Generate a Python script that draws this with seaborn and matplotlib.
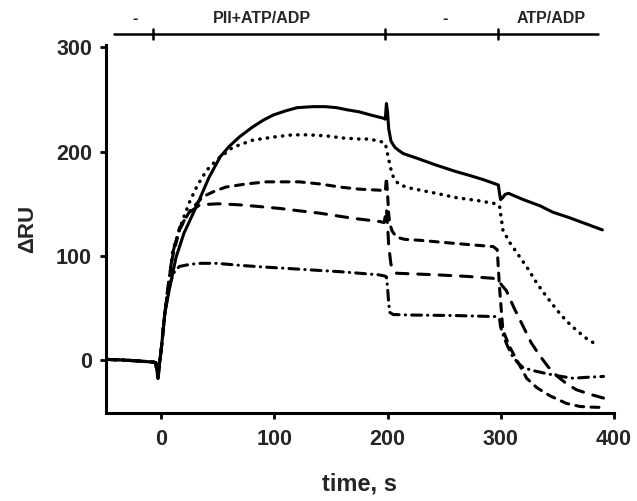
import matplotlib
matplotlib.use("Agg")
import matplotlib.pyplot as plt
import seaborn as sns
import pandas as pd

sns.set_theme(style="white")
plt.rcParams['font.family'] = ['Liberation Sans', 'DejaVu Sans']
plt.rcParams['font.weight'] = 'bold'

# ---- data ----
base_t = [-48, -35, -20, -8, -5, -3, -2]
base_v = [1, 0.5, -0.5, -1.5, -2, -17, -6]

t_solid = base_t + [0, 3, 7, 13, 20, 32, 42, 52, 60, 69, 80, 90, 99, 110, 120, 134, 145,
                    155, 164, 175, 185, 196, 198, 199, 200, 201, 203, 206.5, 210, 214, 225,
                    243, 260, 273, 285, 298, 299, 300, 302, 304, 307, 320, 335, 346, 360, 375, 390]
v_solid = base_v + [12, 45, 68, 99, 122, 150, 175, 195, 205, 214, 223, 230, 235, 239, 242, 243, 243,
                    242, 240, 238, 235, 232, 231, 246, 238, 222, 210, 204, 201, 198, 194,
                    187, 181, 177, 173, 168, 160, 154, 156, 159, 160, 154, 148, 142, 137, 131, 125]

t_dot = base_t + [0, 3, 5, 10, 15, 19, 25, 32, 40, 49, 63, 81, 100, 116, 130, 146, 160, 175,
                  184, 196, 198, 200.5, 203, 205, 208, 211, 220, 243, 260, 280, 296, 299, 302,
                  308, 317, 324, 332, 340, 350, 358, 367, 376, 385]
v_dot = base_v + [12, 45, 60, 105, 122, 135, 152, 168, 182, 192, 204, 211, 214, 216, 216, 215, 213, 212,
                  212, 209, 208, 195, 183, 176, 171, 168, 165, 160, 156, 153, 150, 148, 125,
                  113, 99, 88, 74, 62, 48, 38, 29, 21, 15]

t_dash_a = base_t + [0, 3, 5, 10, 16, 25, 37, 47, 57, 75, 93, 110, 122, 140, 158, 175, 193, 198,
                     199, 200, 201, 202, 204, 208, 215, 229, 260, 293.5, 297, 299, 302, 308,
                     314, 323, 332, 344, 358, 370, 379, 390]
v_dash_a = base_v + [12, 45, 62, 100, 125, 143, 157, 162, 166, 169, 171, 171, 171, 169, 166, 164, 163, 162,
                     175, 160, 140, 131, 124, 118, 116, 115, 112, 109, 106, 70, 29, 13,
                     1, -17, -26, -34, -41, -44, -44.6, -45]

t_dash_b = base_t + [0, 3, 5, 10, 16, 25, 34, 50, 69, 85, 105, 120, 140, 155, 170, 193, 197,
                     199, 200, 201, 203, 205, 208, 220, 243, 270, 293, 298, 301, 305, 312,
                     320, 327, 335, 342, 350, 358, 367, 378, 391]
v_dash_b = base_v + [12, 45, 64, 103, 127, 142, 149, 150, 149, 147.5, 145.5, 143.5, 141, 138.5, 136, 133, 132,
                     145, 130, 110, 92, 87, 83.5, 83, 82, 80.5, 78.7, 77, 72, 67, 50,
                     32.5, 17, 4, -6, -15, -22, -28, -32, -36]

t_dashdot = base_t + [0, 3, 5, 8, 12, 16, 25, 35, 49, 70, 90, 113, 135, 158, 175, 192, 197,
                      199, 200, 201, 202, 205, 220, 260, 296, 299, 300, 303, 306, 310, 315,
                      320, 330, 341, 352, 364, 378, 391]
v_dashdot = base_v + [12, 45, 58, 75, 86, 90, 92, 93, 93, 91, 89.5, 88, 86.5, 85, 83.5, 82, 81,
                      80, 70, 55, 46, 44, 43.5, 43, 42, 40, 32, 22, 14, 5, -2,
                      -7, -10, -12.7, -15, -17, -16, -15.3]

x_ticks = [0, 100, 200, 300, 400]
y_ticks = [0, 100, 200, 300]

bar_edges = [-42, 386]
bar_ticks = [-7, 198, 298]
bar_labels = ["-", "PII+ATP/ADP", "-", "ATP/ADP"]
bar_label_t = [-23, 88.5, 250.7, 345]

series = [
    ("solid", t_solid, v_solid, "-", 2.2),
    ("dotted", t_dot, v_dot, (0, (0.1, 2.1)), 2.5),
    ("dash_a", t_dash_a, v_dash_a, (0, (2.6, 2.4)), 2.2),
    ("dash_b", t_dash_b, v_dash_b, (0, (3.8, 3.2)), 2.2),
    ("dashdot", t_dashdot, v_dashdot, (0, (3.2, 2.0, 0.1, 2.0)), 2.2),
]

fig = plt.figure(figsize=(6.37, 5.01), dpi=100)
ax = fig.add_axes([106/637, 1-412.7/501, (613.7-106)/637, (412.7-45)/501])

for name, tt, vv, ls, lw in series:
    df = pd.DataFrame({"time": tt, "RU": vv})
    sns.lineplot(data=df, x="time", y="RU", ax=ax, color="black", linewidth=lw,
                 linestyle=ls, sort=False, estimator=None,
                 dash_capstyle="round", solid_capstyle="round")

ax.set_xlim(-49, 400)
ax.set_ylim(-50, 302)
ax.set_xticks(x_ticks)
ax.set_yticks(y_ticks)
for lab in ax.get_xticklabels() + ax.get_yticklabels():
    lab.set_fontsize(15.5)
    lab.set_fontweight("bold")
ax.set_xlabel("time, s", fontsize=17, fontweight="bold", labelpad=16)
ax.set_ylabel("ΔRU", fontsize=16, fontweight="bold", labelpad=13)

for s in ["top", "right"]:
    ax.spines[s].set_visible(False)
for s in ["left", "bottom"]:
    ax.spines[s].set_linewidth(2.2)
    ax.spines[s].set_color("black")
ax.tick_params(axis="both", direction="out", length=4, width=2, color="black",
               left=True, bottom=True, pad=8)
ax.tick_params(axis="y", pad=6)
ax.grid(False)

# top condition bar
bar_y = 312.5
ax.plot(bar_edges, [bar_y, bar_y], color="black", lw=1.8, clip_on=False)
for bt in bar_ticks:
    ax.plot([bt, bt], [bar_y - 5, bar_y + 5], color="black", lw=1.8, clip_on=False)
for lab, lt in zip(bar_labels, bar_label_t):
    ax.text(lt, 327, lab, ha="center", va="center", fontsize=11.5, fontweight="bold",
            clip_on=False)

fig.savefig("out.png", dpi=100)
